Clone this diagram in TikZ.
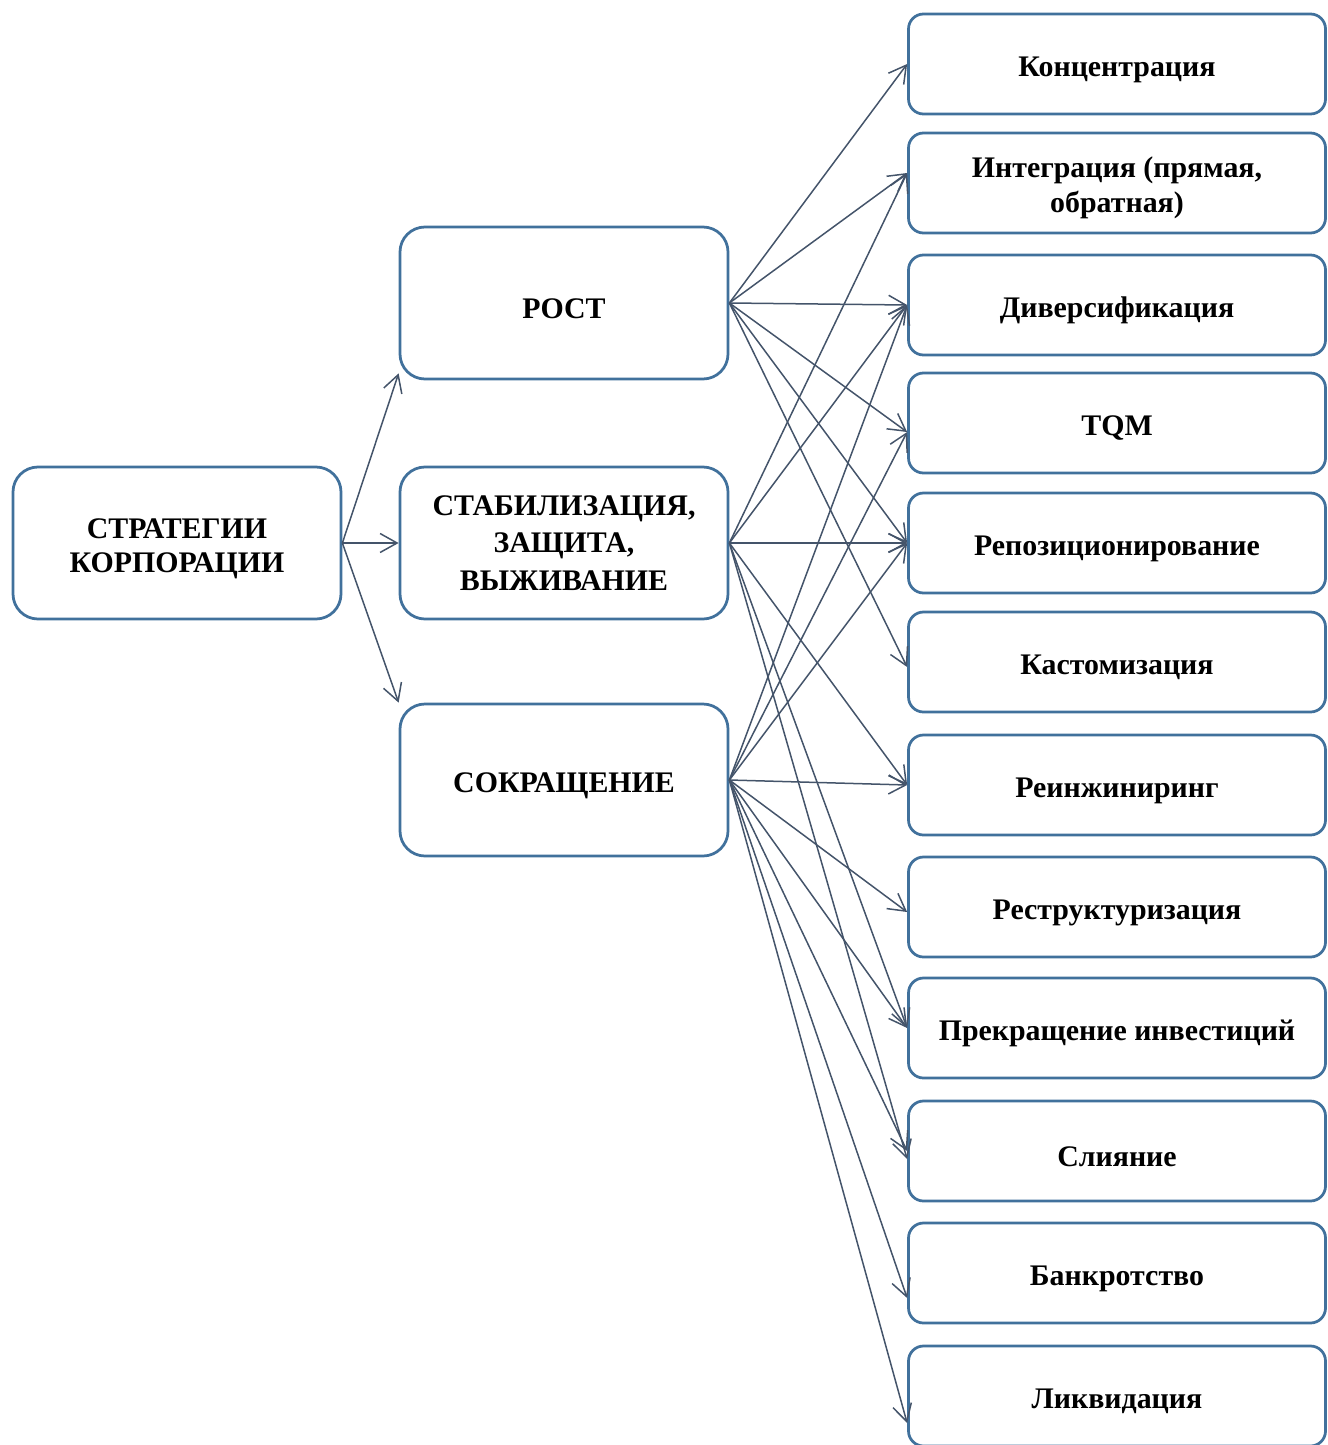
\documentclass[tikz,border=0pt]{standalone}
\usepackage{fontspec}
\setmainfont{Liberation Serif}
\usepackage{xcolor}
\usepackage{tikz}
\usetikzlibrary{arrows.meta}
\definecolor{boxBlue}{RGB}{65,113,156}
\definecolor{arrGray}{RGB}{68,84,106}
\newcommand{\tallstrut}{\rule{0pt}{17.5pt}}
\tikzset{
  bigbox/.style={draw=boxBlue, fill=white, line width=0.55mm, rounded corners=5mm,
    minimum width=65.6mm, minimum height=30.4mm, align=center,
    font=\fontsize{17}{21.5}\selectfont\bfseries},
  smallbox/.style={draw=boxBlue, fill=white, line width=0.55mm, rounded corners=3mm,
    minimum width=83.4mm, minimum height=20mm, align=center,
    font=\fontsize{17}{20}\selectfont\bfseries},
  arr/.style={draw=arrGray, line width=0.3mm, -{Straight Barb[length=3.4mm,width=3.8mm]}}
}

\begin{document}
\begin{tikzpicture}[x=0.2mm, y=-0.2mm]
\useasboundingbox (0,0) rectangle (1328,1445);

\node[bigbox, font=\fontsize{17}{19.5}\selectfont\bfseries] (root) at (177,543) {\tallstrut СТРАТЕГИИ\\КОРПОРАЦИИ};
\node[bigbox] (rost) at (564,303) {\tallstrut РОСТ};
\node[bigbox] (stab) at (564,543) {СТАБИЛИЗАЦИЯ,\\ЗАЩИТА,\\ВЫЖИВАНИЕ};
\node[bigbox] (sokr) at (564,780) {\tallstrut СОКРАЩЕНИЕ};

\node[smallbox] (konc) at (1117,64) {\tallstrut Концентрация};
\node[smallbox] (integ) at (1117,183) {\tallstrut Интеграция (прямая,\\обратная)};
\node[smallbox] (divers) at (1117,305) {\tallstrut Диверсификация};
\node[smallbox] (tqm) at (1117,423) {\tallstrut TQM};
\node[smallbox] (repoz) at (1117,543) {\tallstrut Репозиционирование};
\node[smallbox] (kastom) at (1117,662) {\tallstrut Кастомизация};
\node[smallbox] (reinzh) at (1117,785) {\tallstrut Реинжиниринг};
\node[smallbox] (restr) at (1117,907) {\tallstrut Реструктуризация};
\node[smallbox] (prekr) at (1117,1028) {\tallstrut Прекращение инвестиций};
\node[smallbox] (sliyan) at (1117,1151) {\tallstrut Слияние};
\node[smallbox] (bankr) at (1117,1273) {\tallstrut Банкротство};
\node[smallbox] (likvid) at (1117,1396) {\tallstrut Ликвидация};

\draw[arr] (root.east) -- ([yshift=1.4mm]rost.south west);
\draw[arr] (root.east) -- (stab.west);
\draw[arr] (root.east) -- (sokr.north west);

\draw[arr] (rost.east) -- (konc.west);
\draw[arr] (rost.east) -- ([yshift=2mm]integ.west);
\draw[arr] (rost.east) -- (divers.west);
\draw[arr] (rost.east) -- ([yshift=-1.8mm]tqm.west);
\draw[arr] (rost.east) -- (repoz.west);
\draw[arr] (rost.east) -- ([yshift=-1mm]kastom.west);

\draw[arr] (stab.east) -- ([yshift=2mm]integ.west);
\draw[arr] (stab.east) -- (divers.west);
\draw[arr] (stab.east) -- (repoz.west);
\draw[arr] (stab.east) -- (reinzh.west);
\draw[arr] (stab.east) -- (prekr.west);
\draw[arr] (stab.east) -- ([yshift=-1.6mm]sliyan.west);

\draw[arr] (sokr.east) -- (divers.west);
\draw[arr] (sokr.east) -- ([yshift=-1.8mm]tqm.west);
\draw[arr] (sokr.east) -- (repoz.west);
\draw[arr] (sokr.east) -- (reinzh.west);
\draw[arr] (sokr.east) -- ([yshift=-1mm]restr.west);
\draw[arr] (sokr.east) -- (prekr.west);
\draw[arr] (sokr.east) -- (sliyan.west);
\draw[arr] (sokr.east) -- ([yshift=-5mm]bankr.west);
\draw[arr] (sokr.east) -- ([yshift=-5.4mm]likvid.west);
\end{tikzpicture}
\end{document}
